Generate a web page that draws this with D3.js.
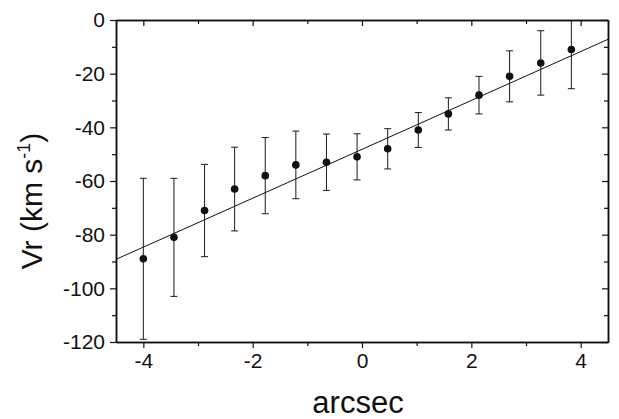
<!DOCTYPE html>
<html>
<head>
<meta charset="utf-8">
<script src="https://cdn.jsdelivr.net/npm/d3@7"></script>
<style>
  body { margin: 0; background: #fff; }
  svg { font-family: "Liberation Sans", Arial, sans-serif; }
</style>
</head>
<body>
<svg id="chart" width="619" height="419"></svg>
<script>
// offsets along the slit (arcsec), radial velocity and its error
var offsets = [-4.00, -3.44, -2.88, -2.33, -1.77, -1.21, -0.65, -0.09, 0.47, 1.03, 1.58, 2.14, 2.70, 3.27, 3.83];
var velocities = [-89, -81, -71, -63, -58, -54, -53, -51, -48, -41, -35, -28, -21, -16, -11];
var errors = [30, 22, 17.2, 15.6, 14.2, 12.6, 10.5, 8.6, 7.5, 6.5, 6, 7, 9.5, 12, 14.6];

// linear fit end points
var fitX = [-4.5, 4.5];
var fitY = [-89.2, -7.2];

var xMajor = [-4, -2, 0, 2, 4];
var xMinor = [-3, -1, 1, 3];
var yMajor = [0, -20, -40, -60, -80, -100, -120];
var yMinor = [-10, -30, -50, -70, -90, -110];

var svg = d3.select("#chart"),
    mLeft = 116, mRight = 608, mTop = 20, mBottom = 342;

var x = d3.scaleLinear().domain([-4.5, 4.5]).range([mLeft, mRight]);
var y = d3.scaleLinear().domain([-120, 0]).range([mBottom, mTop]);

svg.append("defs").append("clipPath").attr("id", "clip")
    .append("rect")
    .attr("x", mLeft).attr("y", mTop)
    .attr("width", mRight - mLeft).attr("height", mBottom - mTop);

var plot = svg.append("g").attr("clip-path", "url(#clip)");

// fit line
var fit = fitX.map(function (d, i) { return [d, fitY[i]]; });
plot.append("path")
    .datum(fit)
    .attr("fill", "none")
    .attr("stroke", "#111")
    .attr("stroke-width", 1)
    .attr("d", d3.line().x(function (d) { return x(d[0]); }).y(function (d) { return y(d[1]); }));

// error bars
var bars = plot.selectAll(".err")
    .data(offsets)
    .enter().append("g")
    .attr("class", "err")
    .attr("stroke", "#1a1a1a")
    .attr("stroke-width", 1);

bars.append("line")
    .attr("x1", function (d) { return x(d); })
    .attr("x2", function (d) { return x(d); })
    .attr("y1", function (d, i) { return y(velocities[i] + errors[i]); })
    .attr("y2", function (d, i) { return y(velocities[i] - errors[i]); });

bars.append("line")
    .attr("x1", function (d) { return x(d) - 3.5; })
    .attr("x2", function (d) { return x(d) + 3.5; })
    .attr("y1", function (d, i) { return y(velocities[i] + errors[i]); })
    .attr("y2", function (d, i) { return y(velocities[i] + errors[i]); });

bars.append("line")
    .attr("x1", function (d) { return x(d) - 3.5; })
    .attr("x2", function (d) { return x(d) + 3.5; })
    .attr("y1", function (d, i) { return y(velocities[i] - errors[i]); })
    .attr("y2", function (d, i) { return y(velocities[i] - errors[i]); });

// points
plot.selectAll(".pt")
    .data(offsets)
    .enter().append("circle")
    .attr("class", "pt")
    .attr("cx", function (d) { return x(d); })
    .attr("cy", function (d, i) { return y(velocities[i]); })
    .attr("r", 3.8)
    .attr("fill", "#111");

// axes: outward ticks left/bottom, inward mirror ticks top/right
function drawAxis(axis, tx, ty, labels) {
    var g = svg.append("g")
        .attr("transform", "translate(" + tx + "," + ty + ")")
        .call(axis.tickFormat(function (d) { return String(d); }));
    g.attr("font-family", null).attr("font-size", null);
    g.select(".domain").attr("stroke", "#111").attr("stroke-width", 1.5);
    g.selectAll(".tick line").attr("stroke", "#111").attr("stroke-width", 1.2);
    if (labels) {
        g.selectAll(".tick text").attr("fill", "#111").attr("font-size", "21px");
    } else {
        g.selectAll(".tick text").remove();
    }
    return g;
}

drawAxis(d3.axisBottom(x).tickValues(xMajor).tickSize(6).tickSizeOuter(0).tickPadding(5), 0, mBottom, true);
drawAxis(d3.axisBottom(x).tickValues(xMinor).tickSize(4).tickSizeOuter(0), 0, mBottom, false);
drawAxis(d3.axisLeft(y).tickValues(yMajor).tickSize(6).tickSizeOuter(0).tickPadding(5), mLeft, 0, true);
drawAxis(d3.axisLeft(y).tickValues(yMinor).tickSize(4).tickSizeOuter(0), mLeft, 0, false);

drawAxis(d3.axisTop(x).tickValues(xMajor).tickSize(-6).tickSizeOuter(0), 0, mTop, false);
drawAxis(d3.axisTop(x).tickValues(xMinor).tickSize(-4).tickSizeOuter(0), 0, mTop, false);
drawAxis(d3.axisRight(y).tickValues(yMajor).tickSize(-6).tickSizeOuter(0), mRight, 0, false);
drawAxis(d3.axisRight(y).tickValues(yMinor).tickSize(-4).tickSizeOuter(0), mRight, 0, false);

// axis titles
svg.append("text")
    .attr("x", 358)
    .attr("y", 413)
    .attr("text-anchor", "middle")
    .attr("font-size", "31px")
    .attr("fill", "#111")
    .text("arcsec");

var yTitle = svg.append("text")
    .attr("transform", "translate(42,201) rotate(-90)")
    .attr("text-anchor", "middle")
    .attr("font-size", "30px")
    .attr("fill", "#111");
yTitle.append("tspan").text("Vr (km s");
yTitle.append("tspan").attr("font-size", "18px").attr("dy", "-12").text("-1");
yTitle.append("tspan").attr("dy", "12").text(")");
</script>
</body>
</html>
